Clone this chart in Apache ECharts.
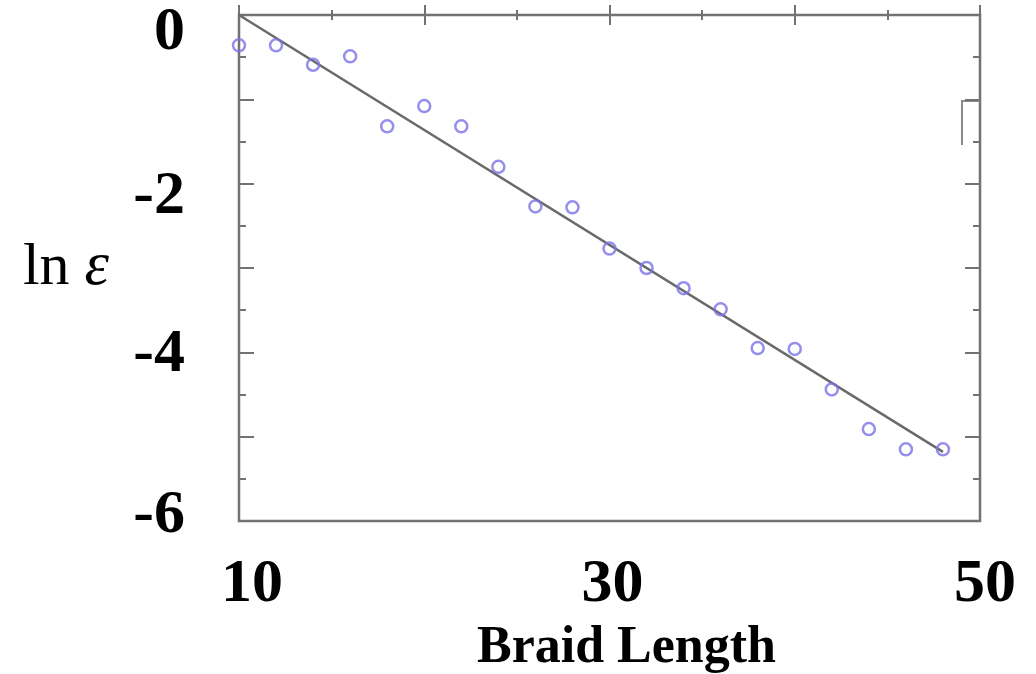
<!DOCTYPE html>
<html>
<head>
<meta charset="utf-8">
<script src="https://cdn.jsdelivr.net/npm/echarts@6/dist/echarts.min.js"></script>
<style>
  html, body { margin: 0; padding: 0; background: #fff; }
  #chart { width: 1036px; height: 674px; }
</style>
</head>
<body>
<div id="chart"></div>
<script>
// Braid length vs. log of error
const braidLength = [10, 12, 14, 16, 18, 20, 22, 24, 26, 28, 30, 32, 34, 36, 38, 40, 42, 44, 46, 48];
const lnEpsilon = [-0.36, -0.36, -0.59, -0.49, -1.32, -1.08, -1.32, -1.80, -2.27, -2.28,
                   -2.77, -3.00, -3.24, -3.49, -3.95, -3.96, -4.44, -4.91, -5.15, -5.15];
// Fitted trend line end points
const fitX = [10, 48];
const fitY = [0, -5.18];
// Tick labels shown on each axis
const xTickLabels = { 10: '10', 30: '30', 50: '50' };
const yTickLabels = { '0': '0', '-2': '-2', '-4': '-4', '-6': '-6' };

const serif = '"Liberation Serif", "DejaVu Serif", serif';
const frame = '#727272';

const chart = echarts.init(document.getElementById('chart'), null, { renderer: 'canvas' });

const labelFont = { fontFamily: serif, fontWeight: 'bold', fontSize: 62, color: '#000' };
const yRich = {
  a: Object.assign({ padding: [36, 0, 0, 0] }, labelFont),
  b: Object.assign({ padding: [26, 0, 0, 0] }, labelFont),
  c: Object.assign({ padding: [6, 0, 0, 0] }, labelFont),
  d: Object.assign({ padding: [0, 0, 10, 0] }, labelFont)
};
const yStyleKey = { '0': 'a', '-2': 'b', '-4': 'c', '-6': 'd' };
const xRich = {
  p: Object.assign({ padding: [0, 0, 0, 26] }, labelFont),
  q: Object.assign({ padding: [0, 0, 0, 6] }, labelFont),
  r: Object.assign({ padding: [0, 0, 0, 10] }, labelFont)
};
const xStyleKey = { 10: 'p', 30: 'q', 50: 'r' };

chart.setOption({
  backgroundColor: '#ffffff',
  animation: false,
  grid: {
    left: 239, right: 56, top: 15, bottom: 153,
    outerBoundsMode: 'none',
    show: true, borderColor: frame, borderWidth: 2.5, backgroundColor: 'transparent'
  },
  graphic: [{
    type: 'polyline',
    shape: { points: [[980, 101], [962, 101], [962, 145]] },
    style: { stroke: '#8a8a8a', lineWidth: 2, fill: null },
    silent: true
  }],
  xAxis: [{
    type: 'value', min: 10, max: 50, interval: 10,
    name: 'Braid Length', nameLocation: 'middle', nameGap: 102,
    nameTextStyle: { fontFamily: serif, fontWeight: 'bold', fontSize: 52, color: '#000', padding: [0, 0, 0, 34] },
    axisLine: { show: false },
    axisTick: { inside: true, length: 10, lineStyle: { color: frame, width: 2 } },
    minorTick: { show: true, splitNumber: 2, length: 5, lineStyle: { color: frame, width: 2 } },
    splitLine: { show: false },
    axisLabel: {
      margin: 33, rich: xRich,
      formatter: v => xTickLabels[v] ? '{' + xStyleKey[v] + '|' + xTickLabels[v] + '}' : ''
    }
  }, {
    type: 'value', min: 10, max: 50, interval: 10, position: 'top',
    axisLine: { show: false },
    axisTick: { inside: true, length: 10, lineStyle: { color: frame, width: 2 } },
    minorTick: { show: true, splitNumber: 2, length: 5, lineStyle: { color: frame, width: 2 } },
    splitLine: { show: false },
    axisLabel: { show: false }
  }],
  yAxis: [{
    type: 'value', min: -6, max: 0, interval: 1,
    name: '{n|ln }{e|ε}', nameLocation: 'middle', nameRotate: 0, nameGap: 130,
    nameTextStyle: {
      rich: {
        n: { fontFamily: serif, fontSize: 60, color: '#000' },
        e: { fontFamily: serif, fontStyle: 'italic', fontSize: 62, color: '#000' }
      }
    },
    axisLine: { show: false },
    axisTick: { inside: true, length: 15, lineStyle: { color: frame, width: 2 } },
    minorTick: { show: true, splitNumber: 2, length: 7, lineStyle: { color: frame, width: 2 } },
    splitLine: { show: false },
    axisLabel: {
      margin: 54, rich: yRich,
      formatter: v => {
        const k = String(v);
        return yTickLabels[k] ? '{' + yStyleKey[k] + '|' + yTickLabels[k] + '}' : '';
      }
    }
  }, {
    type: 'value', min: -6, max: 0, interval: 1, position: 'right',
    axisLine: { show: false },
    axisTick: { inside: true, length: 15, lineStyle: { color: frame, width: 2 } },
    minorTick: { show: true, splitNumber: 2, length: 7, lineStyle: { color: frame, width: 2 } },
    splitLine: { show: false },
    axisLabel: { show: false }
  }],
  series: [{
    type: 'line',
    data: fitX.map((x, i) => [x, fitY[i]]),
    symbol: 'none',
    lineStyle: { color: '#6a6a6a', width: 2.5 },
    z: 2
  }, {
    type: 'scatter',
    data: braidLength.map((x, i) => [x, lnEpsilon[i]]),
    symbol: 'circle', symbolSize: 12,
    itemStyle: { color: 'transparent', borderColor: '#7a72e8', borderWidth: 2.5 },
    z: 3
  }]
});
</script>
</body>
</html>
